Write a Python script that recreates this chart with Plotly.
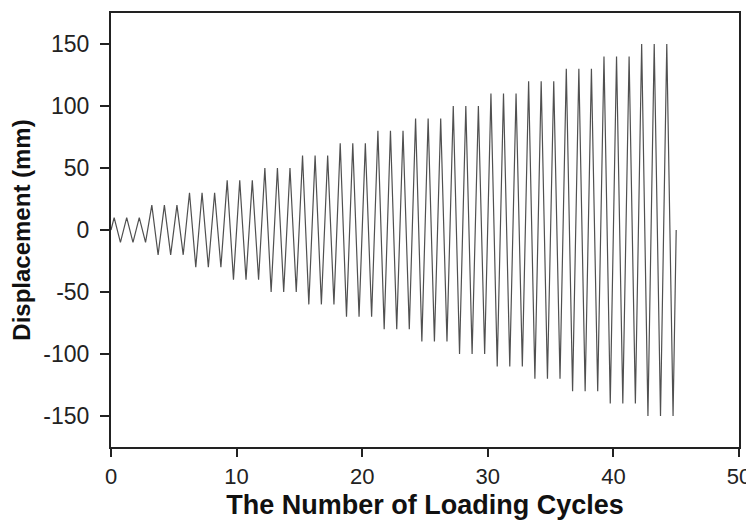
import plotly.graph_objects as go

# Loading protocol
amplitudes_mm = [10, 20, 30, 40, 50, 60, 70, 80, 90, 100, 110, 120, 130, 140, 150]
cycles_per_amplitude = [3, 3, 3, 3, 3, 3, 3, 3, 3, 3, 3, 3, 3, 3, 3]
peak_phase = 0.25    # fraction of a cycle where the positive peak occurs
trough_phase = 0.75  # fraction of a cycle where the negative peak occurs

x_ticks = [0, 10, 20, 30, 40, 50]
y_ticks = [-150, -100, -50, 0, 50, 100, 150]

# Build the triangular displacement history
xs = [0.0]
ys = [0.0]
cycle = 0
for amp, n in zip(amplitudes_mm, cycles_per_amplitude):
    for _ in range(n):
        xs += [cycle + peak_phase, cycle + trough_phase]
        ys += [amp, -amp]
        cycle += 1
xs.append(cycle)
ys.append(0.0)

fig = go.Figure()
fig.add_trace(go.Scatter(x=xs, y=ys, mode="lines",
                         line=dict(color="#505050", width=1.2),
                         showlegend=False, hoverinfo="skip"))

font_family = "Liberation Sans, Arial, sans-serif"
# the page body has an 8px margin, so the figure is 8px smaller than the window
fig.update_layout(
    width=746, height=513,
    margin=dict(l=103, r=14, t=3, b=74),
    paper_bgcolor="white", plot_bgcolor="white",
    font=dict(family=font_family, color="black"),
)
fig.update_xaxes(
    range=[0, 50], tickvals=x_ticks, ticktext=[str(v) for v in x_ticks],
    showline=True, linecolor="#222", linewidth=2, mirror=True,
    ticks="outside", ticklen=8, tickwidth=1.5, tickcolor="#222",
    showgrid=False, zeroline=False,
    tickfont=dict(size=22, family=font_family, color="#222"),
    ticklabelstandoff=1,
    title=dict(text="<b>The Number of Loading Cycles</b>",
               font=dict(size=27, family=font_family, color="#111"),
               standoff=7),
)
fig.update_yaxes(
    range=[-175, 175], tickvals=y_ticks, ticktext=[str(v) for v in y_ticks],
    showline=True, linecolor="#222", linewidth=2, mirror=True,
    ticks="outside", ticklen=9, tickwidth=1.5, tickcolor="#222",
    showgrid=False, zeroline=False,
    tickfont=dict(size=23, family=font_family, color="#222"),
    ticklabelstandoff=6,
    title=dict(text="<b>Displacement (mm)</b>",
               font=dict(size=24, family=font_family, color="#111"),
               standoff=6),
)

# hide page scrollbars so nothing near the right edge is covered
fig.write_html("out.html", config={"displayModeBar": False},
               post_script="document.documentElement.style.overflow='hidden';"
                           "document.body.style.overflow='hidden';")
